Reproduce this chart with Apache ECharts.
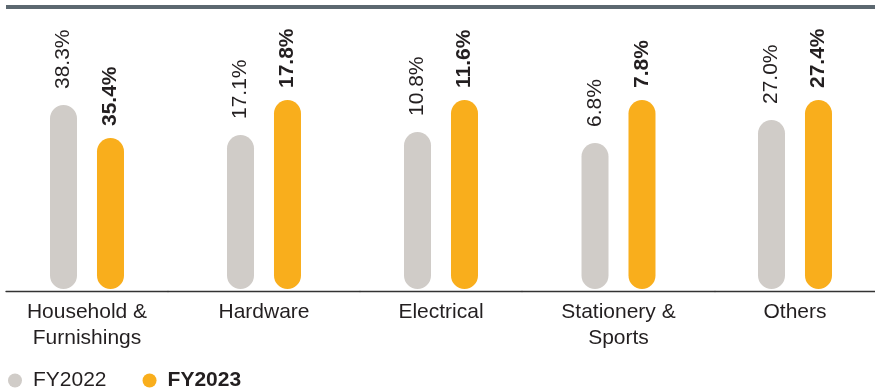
<!DOCTYPE html>
<html>
<head>
<meta charset="utf-8">
<script src="https://cdn.jsdelivr.net/npm/echarts@6/dist/echarts.min.js"></script>
<style>
html,body{margin:0;padding:0;background:#fff;}
#chart{width:875px;height:389px;}
</style>
</head>
<body>
<div id="chart"></div>
<script>
// ---- data ----
const categories = ['Household &\nFurnishings', 'Hardware', 'Electrical', 'Stationery &\nSports', 'Others'];
const fy2022 = [38.3, 17.1, 10.8, 6.8, 27.0];
const fy2023 = [35.4, 17.8, 11.6, 7.8, 27.4];
const seriesNames = ['FY2022', 'FY2023'];

// ---- layout (per-category panels, each with its own value-axis range) ----
const panelCenters = [87, 264, 441, 618.5, 795.5];
const panelStart = 6;
const axisRanges = [[22.13, 38.74], [14.02, 17.8], [6.875, 11.6], [3.405, 7.8], [23.62, 27.4]];

const GRAY = '#d0ccc8';
const ORANGE = '#f9ae1c';
const TEXT = '#231f20';
const FONT = '"Liberation Sans", Arial, Helvetica, sans-serif';

const grids = [], xAxes = [], yAxes = [], series = [];
let left = panelStart;
panelCenters.forEach((c, i) => {
  const w = 2 * (c - left);
  grids.push({ left: left, width: w, top: 100, bottom: 100 });
  left = left + w;
  xAxes.push({
    type: 'category', gridIndex: i, data: [categories[i]], offset: 2,
    axisLine: { show: true, lineStyle: { color: '#333333', width: 1.3 } },
    axisTick: { show: false },
    axisLabel: { interval: 0, color: TEXT, fontSize: 21, fontFamily: FONT, lineHeight: 26, margin: 8 }
  });
  yAxes.push({
    type: 'value', gridIndex: i, min: axisRanges[i][0], max: axisRanges[i][1],
    show: false, splitLine: { show: false }
  });
  [fy2022, fy2023].forEach((arr, k) => {
    series.push({
      type: 'bar', name: seriesNames[k], xAxisIndex: i, yAxisIndex: i,
      data: [arr[i]], barWidth: 27, barGap: '74%',
      itemStyle: { color: k === 0 ? GRAY : ORANGE, borderRadius: 13.5 },
      label: {
        show: true, position: 'top', rotate: 90, align: 'left', verticalAlign: 'middle',
        distance: k === 0 ? 16 : 12,
        formatter: p => p.value.toFixed(1) + '%',
        color: TEXT, fontSize: 21, fontFamily: FONT, fontWeight: k === 0 ? 'normal' : 'bold'
      }
    });
  });
});

const chart = echarts.init(document.getElementById('chart'), null, { renderer: 'canvas' });
chart.setOption({
  animation: false,
  backgroundColor: '#ffffff',
  color: [GRAY, ORANGE],
  grid: grids,
  xAxis: xAxes,
  yAxis: yAxes,
  series: series,
  legend: {
    data: seriesNames, left: 8, top: 370, padding: 0,
    icon: 'circle', itemWidth: 14, itemHeight: 14, itemGap: 36,
    formatter: n => n === 'FY2023' ? '{b|' + n + '}' : n,
    textStyle: {
      color: TEXT, fontSize: 21, fontFamily: FONT, padding: [0, 0, 0, 6],
      rich: { b: { fontWeight: 'bold', fontSize: 21, fontFamily: FONT, color: TEXT } }
    }
  },
  graphic: [{
    type: 'rect', shape: { x: 6, y: 5, width: 869, height: 4 },
    style: { fill: '#5c6870' }
  }]
});
</script>
</body>
</html>
